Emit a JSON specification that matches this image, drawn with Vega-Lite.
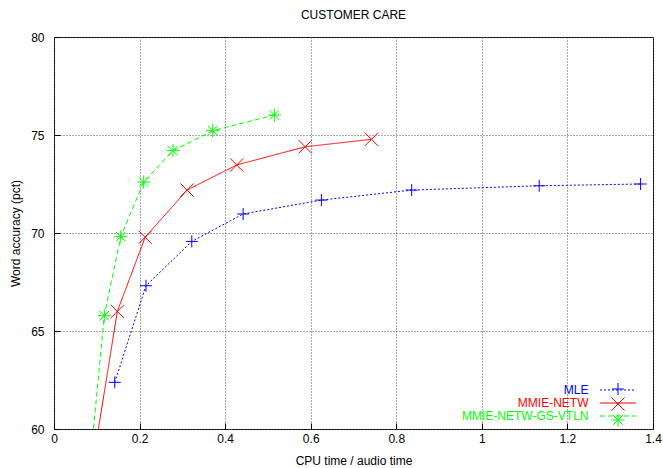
{
  "$schema": "https://vega.github.io/schema/vega-lite/v6.json",
  "width": 599,
  "height": 392,
  "autosize": "none",
  "padding": {"left": 54, "top": 37, "right": 10, "bottom": 39},
  "title": {"text": "CUSTOMER CARE", "fontSize": 12, "fontWeight": "normal", "font": "Liberation Sans", "offset": 9, "color": "#000"},
  "data": {
    "values": [
      {"s": "MLE", "x": 0.142, "y": 62.38},
      {"s": "MLE", "x": 0.215, "y": 67.31},
      {"s": "MLE", "x": 0.322, "y": 69.57},
      {"s": "MLE", "x": 0.442, "y": 70.97},
      {"s": "MLE", "x": 0.625, "y": 71.68},
      {"s": "MLE", "x": 0.836, "y": 72.19},
      {"s": "MLE", "x": 1.134, "y": 72.41},
      {"s": "MLE", "x": 1.371, "y": 72.5},
      {"s": "MMIE-NETW", "x": 0.089, "y": 58.0},
      {"s": "MMIE-NETW", "x": 0.148, "y": 66.0},
      {"s": "MMIE-NETW", "x": 0.213, "y": 69.78},
      {"s": "MMIE-NETW", "x": 0.311, "y": 72.19},
      {"s": "MMIE-NETW", "x": 0.427, "y": 73.47},
      {"s": "MMIE-NETW", "x": 0.587, "y": 74.4},
      {"s": "MMIE-NETW", "x": 0.742, "y": 74.78},
      {"s": "MMIE-NETW-GS-VTLN", "x": 0.0835, "y": 58.0},
      {"s": "MMIE-NETW-GS-VTLN", "x": 0.1175, "y": 65.78},
      {"s": "MMIE-NETW-GS-VTLN", "x": 0.156, "y": 69.81},
      {"s": "MMIE-NETW-GS-VTLN", "x": 0.2096, "y": 72.6},
      {"s": "MMIE-NETW-GS-VTLN", "x": 0.278, "y": 74.2},
      {"s": "MMIE-NETW-GS-VTLN", "x": 0.371, "y": 75.22},
      {"s": "MMIE-NETW-GS-VTLN", "x": 0.515, "y": 76.02}
    ]
  },
  "layer": [
    {
      "mark": {"type": "line", "clip": true, "strokeWidth": 1},
      "encoding": {
        "x": {
          "field": "x", "type": "quantitative", "title": "CPU time / audio time",
          "scale": {"domain": [0, 1.4], "nice": false, "zero": false},
          "axis": {"values": [0, 0.2, 0.4, 0.6, 0.8, 1, 1.2, 1.4], "format": "~g", "labelFlush": false, "tickSize": -6, "labelPadding": 10, "titlePadding": 11}
        },
        "y": {
          "field": "y", "type": "quantitative", "title": "Word accuracy (pct)",
          "scale": {"domain": [60, 80], "nice": false, "zero": false},
          "axis": {"values": [60, 65, 70, 75, 80], "labelFlush": false, "tickSize": -6, "labelPadding": 16, "titlePadding": 8}
        },
        "stroke": {
          "field": "s", "type": "nominal",
          "scale": {"domain": ["MLE", "MMIE-NETW", "MMIE-NETW-GS-VTLN"], "range": ["#0000ff", "#ff0000", "#00ff00"]},
          "legend": {"orient": "none", "legendX": 557.5, "legendY": 346.5, "title": null, "padding": 0, "symbolType": "M-3,0L3,0", "symbolSize": 144, "symbolStrokeWidth": 1, "labelAlign": "right", "labelOffset": -36, "labelFontSize": 12, "labelFont": "Liberation Sans", "rowPadding": 0, "encode": {"labels": {"update": {"fill": {"scale": "stroke", "field": "value"}}}}}
        },
        "strokeDash": {
          "field": "s", "type": "nominal",
          "scale": {"domain": ["MLE", "MMIE-NETW", "MMIE-NETW-GS-VTLN"], "range": [[2, 2], [1, 0], [5, 3]]},
          "legend": {"orient": "none", "legendX": 557.5, "legendY": 346.5, "title": null, "padding": 0, "symbolType": "M-3,0L3,0", "symbolSize": 144, "symbolStrokeWidth": 1, "labelAlign": "right", "labelOffset": -36, "labelFontSize": 12, "labelFont": "Liberation Sans", "rowPadding": 0}
        }
      }
    },
    {
      "mark": {"type": "point", "clip": true, "filled": false, "strokeWidth": 1, "opacity": 1, "size": 144},
      "encoding": {
        "x": {"field": "x", "type": "quantitative"},
        "y": {"field": "y", "type": "quantitative"},
        "color": {
          "field": "s", "type": "nominal",
          "scale": {"range": ["#0000ff", "#ff0000", "#00ff00"]},
          "legend": {"orient": "none", "legendX": 557.5, "legendY": 345.5, "title": null, "padding": 0, "symbolSize": 144, "symbolStrokeWidth": 1, "labelExpr": "''", "labelFontSize": 12, "rowPadding": -7}
        },
        "shape": {
          "field": "s", "type": "nominal",
          "scale": {"range": ["M-1,0L1,0M0,-1L0,1", "M-1.1,-1.1L1.1,1.1M-1.1,1.1L1.1,-1.1", "M-1.1,0L1.1,0M0,-1.1L0,1.1M-0.8,-0.8L0.8,0.8M-0.8,0.8L0.8,-0.8"]},
          "legend": {"orient": "none", "legendX": 557.5, "legendY": 345.5, "title": null, "padding": 0, "symbolSize": 144, "symbolStrokeWidth": 1, "labelExpr": "''", "labelFontSize": 12, "rowPadding": -7}
        }
      }
    }
  ],
  "config": {
    "view": {"stroke": "#000", "strokeWidth": 1},
    "axis": {"domain": false, "labelFont": "Liberation Sans", "titleFont": "Liberation Sans", "labelFontSize": 12, "titleFontSize": 12, "titleFontWeight": "normal", "labelColor": "#000", "titleColor": "#000", "tickColor": "#000", "grid": true, "gridColor": "#555", "gridDash": [1, 2], "gridOpacity": 1}
  }
}
